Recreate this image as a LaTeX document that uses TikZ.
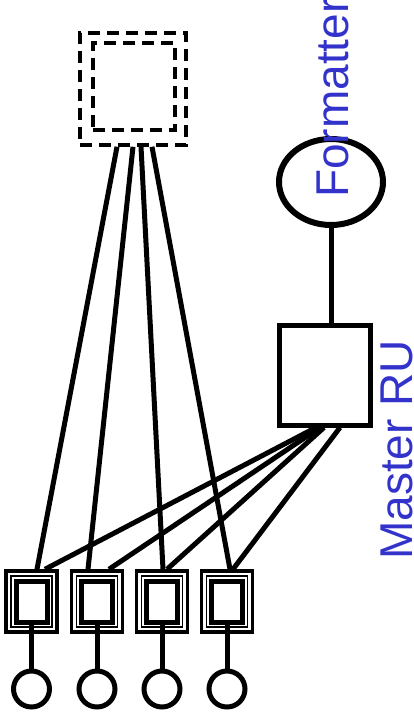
\documentclass[tikz,border=0pt]{standalone}
\usepackage{fontspec}
\setmainfont{Liberation Sans}
\definecolor{rublue}{HTML}{3333CC}
\usetikzlibrary{calc,shapes.geometric}

\begin{document}
\begin{tikzpicture}[
  x=1pt, y=-1pt,
  hub/.style={rectangle, draw, line width=3.5pt,
    dash pattern=on 12pt off 7pt, inner sep=0pt},
  master/.style={rectangle, draw, line width=5pt,
    minimum width=91pt, minimum height=100pt, inner sep=0pt},
  fmt/.style={ellipse, draw, line width=6pt,
    minimum width=104pt, minimum height=86pt, inner sep=0pt},
  chipout/.style={rectangle, draw, line width=3.5pt,
    minimum width=51pt, minimum height=61pt, inner sep=0pt},
  chipmid/.style={rectangle, draw, line width=1.8pt,
    minimum width=41pt, minimum height=51pt, inner sep=0pt},
  chipin/.style={rectangle, draw, line width=5pt,
    minimum width=31pt, minimum height=41pt, inner sep=0pt},
  pad/.style={circle, draw, line width=5pt, minimum size=36pt, inner sep=0pt},
  wire/.style={line width=5pt},
  lbl/.style={text=rublue, font=\fontsize{46}{50}\selectfont,
    rotate=90, anchor=base west, inner sep=0pt},
]
  \useasboundingbox (0,0) rectangle (414,726);

  \node[hub, minimum width=106pt, minimum height=112pt] (hubout) at (133,89) {};
  \node[hub, minimum width=82pt, minimum height=87pt] (hubin) at (134,86.5) {};

  \node[fmt] (fmt) at (331,182) {};
  \node[master] (ru) at (324.5,375) {};
  \node[lbl] (fmtlbl) at (348,198) {Formatter};
  \node[lbl] (rulbl) at (412,560) {Master RU};

  \draw[wire] (fmt.south) -- (fmt.south |- ru.north);

  \node[chipout] (chipa) at (31.5,601.5) {};
  \node[chipmid] (chipamid) at (31.5,601.5) {};
  \node[chipin] (chipain) at (31.5,601.5) {};
  \node[pad] (pada) at (31.5,689) {};

  \node[chipout] (chipb) at (97,601.5) {};
  \node[chipmid] (chipbmid) at (97,601.5) {};
  \node[chipin] (chipbin) at (97,601.5) {};
  \node[pad] (padb) at (97,689) {};

  \node[chipout] (chipc) at (162,601.5) {};
  \node[chipmid] (chipcmid) at (162,601.5) {};
  \node[chipin] (chipcin) at (162,601.5) {};
  \node[pad] (padc) at (162,689) {};

  \node[chipout] (chipd) at (227,601.5) {};
  \node[chipmid] (chipdmid) at (227,601.5) {};
  \node[chipin] (chipdin) at (227,601.5) {};
  \node[pad] (padd) at (227,689) {};

  \draw[wire] (chipain.south) -- (pada.north);
  \draw[wire] (chipbin.south) -- (padb.north);
  \draw[wire] (chipcin.south) -- (padc.north);
  \draw[wire] (chipdin.south) -- (padd.north);

  \draw[wire] ([xshift=-16pt]hubout.south) -- ([xshift=5.5pt]chipa.north);
  \draw[wire] ([xshift=0pt]hubout.south) -- ([xshift=-9pt]chipb.north);
  \draw[wire] ([xshift=8pt]hubout.south) -- ([xshift=1pt]chipc.north);
  \draw[wire] ([xshift=19pt]hubout.south) -- ([xshift=3pt]chipd.north);

  \draw[wire] ([xshift=-8.5pt]ru.south) -- ([xshift=13.5pt]chipa.north);
  \draw[wire] ([xshift=-4.5pt]ru.south) -- ([xshift=12pt]chipb.north);
  \draw[wire] ([xshift=-0.5pt]ru.south) -- ([xshift=5pt]chipc.north);
  \draw[wire] ([xshift=15.5pt]ru.south) -- ([xshift=6pt]chipd.north);
\end{tikzpicture}
\end{document}
